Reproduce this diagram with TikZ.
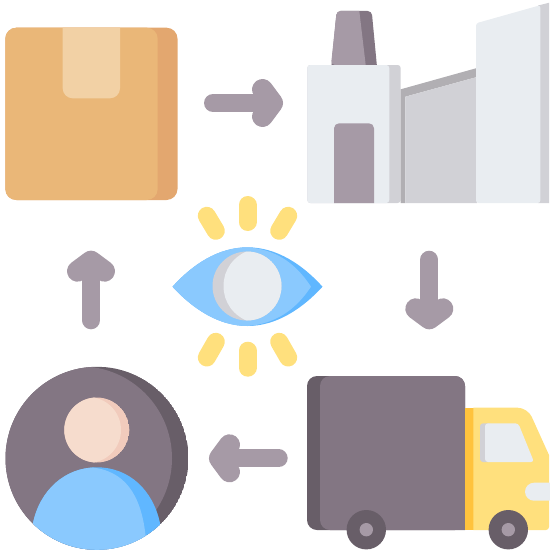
\documentclass[tikz,border=0pt]{standalone}
\usetikzlibrary{arrows.meta, calc}
\definecolor{boxmain}{HTML}{EAB778}
\definecolor{boxshade}{HTML}{E3A76F}
\definecolor{boxtape}{HTML}{F2D1A5}
\definecolor{wall}{HTML}{E9EDF1}
\definecolor{wallshade}{HTML}{D1D1D6}
\definecolor{roofshade}{HTML}{B1AFB3}
\definecolor{mauve}{HTML}{A69AA6}
\definecolor{plum}{HTML}{837683}
\definecolor{plumdark}{HTML}{685E68}
\definecolor{sun}{HTML}{FFE07D}
\definecolor{sundark}{HTML}{FFC33D}
\definecolor{sky}{HTML}{8AC9FE}
\definecolor{skydark}{HTML}{60B7FF}
\definecolor{skin}{HTML}{F6DCCD}
\definecolor{skindark}{HTML}{F1CBBC}
\tikzset{
  flowarr/.style={line width=18pt, line cap=round, draw=mauve,
                  -{Straight Barb[round, length=10pt, width=27pt, line width=21pt]}},
  ray/.style={line width=18pt, line cap=round, draw=sun},
}

\begin{document}
\begin{tikzpicture}[x=1pt, y=-1pt]
  \useasboundingbox (0,0) rectangle (549,551);

  \fill[boxshade, rounded corners=11pt] (5.3,27.7) rectangle (177.5,200);
  \fill[boxmain, rounded corners=11pt] (5.3,27.7) rectangle (157.7,200);
  \fill[boxtape] (62.7,27.7) [rounded corners=10pt] -- (62.7,98.3) -- (120,98.3)
    [sharp corners] -- (120,27.7) -- cycle;

  \fill[plum, rounded corners=4pt] (336.7,11) -- (331,70) -- (377.3,70) -- (371.7,11) -- cycle;
  \fill[mauve] (340,11) [rounded corners=4pt] -- (336.7,11) -- (331,65)
    [sharp corners] -- (365.7,65) -- (359.3,11) -- cycle;
  \fill[wallshade, rounded corners=3pt] (307.3,65) rectangle (400.7,203);
  \fill[wall, rounded corners=3pt] (307.3,65) rectangle (389.3,203);
  \fill[mauve] (334,203) [rounded corners=5pt] -- (334,123.3) -- (374,123.3)
    [sharp corners] -- (374,203) -- cycle;
  \fill[roofshade] (400.7,89.3) -- (477,68) -- (477,77) -- (405.3,96.7) -- (405.3,203) -- (400.7,203) -- cycle;
  \fill[wallshade] (405.3,96.7) -- (477,77) -- (477,203) -- (405.3,203) -- cycle;
  \fill[wallshade] (538,5.5) -- (549,2.8) -- (549,203) -- (538,203) -- cycle;
  \fill[wall, rounded corners=2.5pt] (476,23.3) -- (540.3,5.2) -- (540.3,203) -- (476,203) -- cycle;

  \fill[plumdark, rounded corners=10pt] (307,376) rectangle (465,530);
  \fill[plum] (330,376) -- (455,376) [rounded corners=10pt] -- (465,376)
    [sharp corners] -- (465,530) -- (330,530) [rounded corners=10pt] -- (320,530) -- (320,376)
    [sharp corners] -- cycle;
  \fill[sundark] (465,407.7) rectangle (474,530);
  \fill[sun] (473.3,407.7) [rounded corners=10pt] -- (527.6,407.7)
    [sharp corners] -- (549,455) [rounded corners=3pt] -- (549,530) [sharp corners] -- (473.3,530) -- cycle;
  \fill[wallshade, rounded corners=3pt] (480,423.3) rectangle (492,462);
  \fill[wall, rounded corners=3pt] (485,423.3) -- (518.3,423.3) -- (534,462) -- (485,462) -- cycle;
  \fill[wall, rounded corners=9pt] (525,482.7) rectangle (565,500.7);
  \foreach \wx/\wname in {366.3/rear, 508.3/front} {
    \coordinate (wheel\wname) at (\wx,529.7);
    \fill[plumdark] (wheel\wname) circle[radius=19.7pt];
    \fill[mauve] (wheel\wname) circle[radius=6.7pt];
  }

  \begin{scope}
    \clip (97,458.3) circle[radius=91.5pt];
    \fill[plumdark] (97,458.3) circle[radius=91.5pt];
    \fill[plum] (80,458.3) circle[radius=92pt];
    \fill[skydark] (33,523) .. controls (40,490) and (65,467.3) .. (97,467.3)
      .. controls (129,467.3) and (153,490) .. (160,523) -- (160,560) -- (33,560) -- cycle;
    \clip (33,523) .. controls (40,490) and (65,467.3) .. (97,467.3)
      .. controls (129,467.3) and (153,490) .. (160,523) -- (160,560) -- (33,560) -- cycle;
    \fill[sky] (20,560) -- (20,460) -- (90,467.3) .. controls (125,470) and (141,495) .. (145.5,535)
      -- (145.5,560) -- cycle;
  \end{scope}
  \begin{scope}
    \clip (96.8,430) circle[radius=32.5pt];
    \fill[skindark] (96.8,430) circle[radius=32.5pt];
    \fill[skin] (88,430) circle[radius=33pt];
  \end{scope}

  \fill[skydark] (172.5,286.7) .. controls (192,265) and (218,247.3) .. (247.5,247.3)
    .. controls (277,247.3) and (303,265) .. (322.5,286.7)
    .. controls (303,308) and (277,326) .. (247.5,326)
    .. controls (218,326) and (192,308) .. (172.5,286.7) -- cycle;
  \fill[sky] (172.5,286.7) .. controls (192,265) and (218,247.3) .. (247.5,247.3)
    .. controls (274,249) and (295,262) .. (311,286.7)
    .. controls (295,311) and (274,324) .. (247.5,326)
    .. controls (218,326) and (192,308) .. (172.5,286.7) -- cycle;
  \begin{scope}
    \clip (247,286) circle[radius=34.5pt];
    \fill[wallshade] (247,286) circle[radius=34.5pt];
    \fill[wall] (250,250) .. controls (233,256) and (223.5,270) .. (223.5,286)
      .. controls (223.5,302) and (233,316) .. (250,322) -- (290,322) -- (290,250) -- cycle;
  \end{scope}

  \foreach \sx/\sy/\ex/\ey in {
    247.5/205/247.5/222, 206.8/215.8/215.8/230.8, 288.2/215.8/279.2/230.8,
    247.5/350.7/247.5/367.7, 206.8/357.5/215.8/341.8, 288.2/357.5/279.2/341.8} {
    \draw[ray] (\sx,\sy) -- (\ex,\ey);
  }

  \coordinate (boxout) at (213,103);
  \coordinate (factoryin) at (283,103);
  \coordinate (factoryout) at (429.3,259.7);
  \coordinate (truckin) at (429.3,329.3);
  \coordinate (truckout) at (278.7,458.3);
  \coordinate (personin) at (209,458.3);
  \coordinate (personout) at (91,320.3);
  \coordinate (boxin) at (91,250.7);
  \draw[flowarr] (boxout) -- (factoryin);
  \draw[flowarr] (factoryout) -- (truckin);
  \draw[flowarr] (truckout) -- (personin);
  \draw[flowarr] (personout) -- (boxin);
\end{tikzpicture}
\end{document}
